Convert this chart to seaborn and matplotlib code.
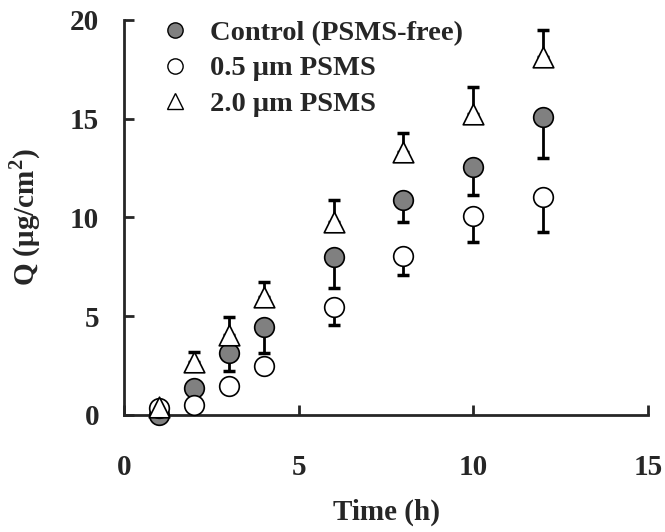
import numpy as np
import pandas as pd
import matplotlib
matplotlib.use("Agg")
import matplotlib.pyplot as plt
import seaborn as sns
from matplotlib.lines import Line2D

time = [1, 2, 3, 4, 6, 8, 10, 12]
control = [0.0, 1.35, 3.15, 4.45, 8.0, 10.9, 12.55, 15.1]
control_err = [0.0, 0.0, 0.9, 1.3, 1.55, 1.15, 1.4, 2.1]
psms05 = [0.35, 0.5, 1.47, 2.48, 5.47, 8.04, 10.06, 11.05]
psms05_err = [0.0, 0.0, 0.0, 0.0, 0.9, 0.96, 1.3, 1.8]
psms20 = [0.4, 2.67, 4.05, 5.98, 9.76, 13.3, 15.25, 18.1]
psms20_err = [0.0, 0.5, 0.9, 0.75, 1.1, 1.0, 1.35, 1.4]
labels = ["Control (PSMS-free)", "0.5 \u03bcm PSMS", "2.0 \u03bcm PSMS"]

sns.set_theme(style="ticks")
plt.rcParams['font.family'] = ['Liberation Serif', 'DejaVu Serif']
plt.rcParams['font.weight'] = 'bold'
plt.rcParams['mathtext.fontset'] = 'custom'
plt.rcParams['mathtext.rm'] = 'Liberation Serif:bold'
plt.rcParams['mathtext.bf'] = 'Liberation Serif:bold'

fig = plt.figure(figsize=(6.65, 5.32), dpi=100)
ax = fig.add_axes([0.1865, 0.22, 0.788, 0.7425])

series = [
    (control, control_err, 'o', '#808080', 'lower'),
    (psms05, psms05_err, 'o', 'white', 'lower'),
    (psms20, psms20_err, '^', 'white', 'upper'),
]

for i, (vals, err, mk, fc, side) in enumerate(series):
    err = np.array(err)
    zeros = np.zeros_like(err)
    yerr = [err, zeros] if side == 'lower' else [zeros, err]
    mask = err > 0
    t = np.array(time)[mask]
    v = np.array(vals)[mask]
    ye = [yerr[0][mask], yerr[1][mask]]
    ax.errorbar(t, v, yerr=ye, fmt='none', ecolor='black', elinewidth=2.0,
                capsize=4, capthick=2.5, zorder=2 + 2 * i, clip_on=False)
    df = pd.DataFrame({"t": time, "v": vals})
    sns.scatterplot(data=df, x="t", y="v", marker=mk, s=200 if mk == 'o' else 220,
                    facecolor=fc, edgecolor='black', linewidth=1.2,
                    ax=ax, zorder=3 + 2 * i, clip_on=False, legend=False)

ax.set_xlim(0, 15)
ax.set_ylim(0, 20)
ax.set_xticks([0, 5, 10, 15])
ax.set_yticks([0, 5, 10, 15, 20])
sns.despine(ax=ax)
for s in ['left', 'bottom']:
    ax.spines[s].set_linewidth(2)
ax.tick_params(direction='in', length=7, width=2, labelsize=21)
ax.tick_params(axis='x', pad=28)
ax.tick_params(axis='y', pad=18)
for lab in ax.get_xticklabels() + ax.get_yticklabels():
    lab.set_fontweight('bold')

ax.set_xlabel("Time (h)", fontsize=21, fontweight='bold', labelpad=13)
ax.set_ylabel("Q (\u03bcg/cm$^{\\mathbf{2}}$)", fontsize=21, fontweight='bold', labelpad=19)

handles = [
    Line2D([], [], marker='o', ls='none', markersize=11, markerfacecolor='#808080', markeredgecolor='black'),
    Line2D([], [], marker='o', ls='none', markersize=11, markerfacecolor='white', markeredgecolor='black'),
    Line2D([], [], marker='^', ls='none', markersize=12, markerfacecolor='white', markeredgecolor='black'),
]
ax.legend(handles, labels, loc='upper left', bbox_to_anchor=(0.071, 1.0), frameon=False,
          prop={'family': 'Liberation Serif', 'weight': 'bold', 'size': 20.5},
          handlelength=1.0, handletextpad=0.73, labelspacing=0.34,
          borderaxespad=0, borderpad=0)

fig.savefig("out.png", dpi=100)
